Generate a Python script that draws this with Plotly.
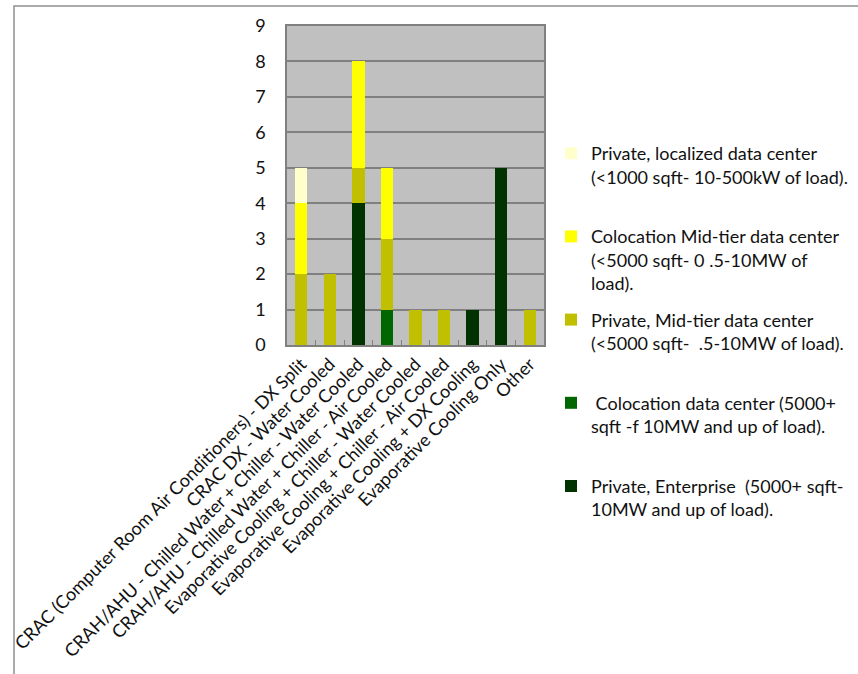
import plotly.graph_objects as go

categories = [
    "CRAC (Computer Room Air Conditioners) - DX Split",
    "CRAC DX - Water Cooled",
    "CRAH/AHU - Chilled Water + Chiller - Water Cooled",
    "CRAH/AHU - Chilled Water + Chiller - Air Cooled",
    "Evaporative Cooling + Chiller - Water Cooled",
    "Evaporative Cooling + Chiller - Air Cooled",
    "Evaporative Cooling + DX Cooling",
    "Evaporative Cooling Only",
    "Other",
]

private_enterprise = [0, 0, 4, 0, 0, 0, 1, 5, 0]
colocation_dc = [0, 0, 0, 1, 0, 0, 0, 0, 0]
private_midtier = [2, 2, 1, 2, 1, 1, 0, 0, 1]
colocation_midtier = [2, 0, 3, 2, 0, 0, 0, 0, 0]
private_localized = [1, 0, 0, 0, 0, 0, 0, 0, 0]

series_names = [
    "Private, Enterprise  (5000+ sqft-<br>10MW and up of load).<br>&nbsp;",
    " Colocation data center (5000+<br>sqft -f 10MW and up of load).<br>&nbsp;",
    "Private, Mid-tier data center<br>(<5000 sqft-  .5-10MW of load).<br>&nbsp;",
    "Colocation Mid-tier data center<br>(<5000 sqft- 0 .5-10MW of<br>load).",
    "Private, localized data center<br>(<1000 sqft- 10-500kW of load).<br>&nbsp;",
]
series_values = [private_enterprise, colocation_dc, private_midtier,
                 colocation_midtier, private_localized]
series_colors = ["#003300", "#006600", "#C0C000", "#FFFF00", "#FFFFCC"]

FONT = "Lato"
FS = 18

fig = go.Figure()
for i, (name, vals, col) in enumerate(zip(series_names, series_values, series_colors)):
    fig.add_trace(go.Bar(
        x=categories, y=vals, name=name,
        marker=dict(color=col, line=dict(width=0)),
        legendgroup=f"g{i}",
        legendrank=100 - i,
    ))

W, H = 858, 674
L, R, T, B = 287, 314, 26, 329
pw = W - L - R
ph = H - T - B

def px_to_paper_x(px):
    return (px - L) / pw

def px_to_paper_y(py):
    return (H - B - py) / ph

fig.update_layout(
    width=W, height=H,
    margin=dict(l=L, r=R, t=T, b=B, autoexpand=False),
    barmode="stack",
    bargap=0.57,
    plot_bgcolor="#C0C0C0",
    paper_bgcolor="white",
    font=dict(family=FONT, size=FS, color="#111111"),
    showlegend=True,
    legend=dict(
        x=px_to_paper_x(551), y=px_to_paper_y(135),
        xanchor="left", yanchor="top",
        traceorder="grouped",
        tracegroupgap=10,
        valign="top",
        font=dict(family=FONT, size=FS, color="#111111"),
        itemwidth=30,
        maxheight=600,
        bgcolor="rgba(0,0,0,0)",
    ),
    xaxis=dict(
        tickangle=-45,
        tickson="boundaries",
        ticks="inside",
        ticklen=5,
        tickcolor="#808080",
        showline=True, linecolor="#808080", linewidth=1.5, mirror=True,
        showgrid=False,
        tickfont=dict(family=FONT, size=FS, color="#111111"),
    ),
    yaxis=dict(
        range=[0, 9],
        dtick=1,
        showgrid=True, gridcolor="#808080", gridwidth=1.5,
        showline=True, linecolor="#808080", linewidth=1.5, mirror=True,
        ticks="", ticklabelstandoff=16,
        zeroline=False,
        tickfont=dict(family=FONT, size=FS, color="#111111"),
    ),
    shapes=[dict(
        type="rect", xref="paper", yref="paper",
        x0=px_to_paper_x(14), x1=px_to_paper_x(W + 20),
        y0=px_to_paper_y(H + 20), y1=px_to_paper_y(6),
        line=dict(color="#909090", width=1.5), fillcolor="rgba(0,0,0,0)",
        layer="below",
    )],
)

fig.write_html("out.html")
